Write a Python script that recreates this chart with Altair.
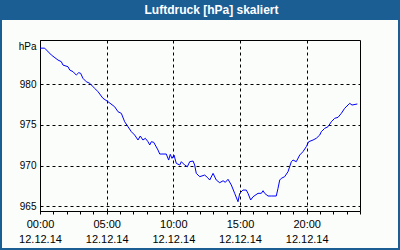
import altair as alt
import pandas as pd

title_text = "Luftdruck [hPa] skaliert"
unit_label = "hPa"
date_label = "12.12.14"
hour_ticks = [0, 5, 10, 15, 20]
time_labels = ["00:00", "05:00", "10:00", "15:00", "20:00"]
minor_ticks = list(range(0, 25))
y_ticks = [965, 970, 975, 980]

hours = [0.0, 0.35, 0.85, 1.35, 1.6, 1.72, 2.1, 2.23, 2.48, 2.72, 2.9, 3.05, 3.22, 3.47,
         3.73, 4.1, 4.35, 4.72, 5.1, 5.6, 5.85, 6.1, 6.35, 6.6, 6.85, 7.1, 7.35, 7.52,
         7.72, 7.9, 8.1, 8.23, 8.35, 8.53, 8.85, 8.98, 9.47, 9.65, 9.77, 9.9, 10.05,
         10.22, 10.48, 10.6, 10.85, 11.05, 11.23, 11.48, 11.6, 11.72, 11.98, 12.35,
         12.55, 12.73, 12.98, 13.22, 13.48, 13.73, 13.9, 14.1, 14.35, 14.6, 14.85,
         14.98, 15.22, 15.47, 15.6, 15.8, 15.98, 16.35, 16.6, 16.73, 16.85, 17.1,
         17.35, 17.72, 17.85, 17.98, 18.1, 18.35, 18.6, 18.85, 18.98, 19.22, 19.48,
         19.72, 19.97, 20.15, 20.48, 20.72, 20.98, 21.1, 21.35, 21.6, 21.85, 22.1,
         22.35, 22.6, 22.85, 23.23, 23.4, 23.8]
pressure = [984.4, 984.4, 983.56, 982.94, 982.74, 982.33, 982.12, 981.72, 981.51, 981.10,
            981.39, 981.31, 980.70, 980.28, 980.09, 979.47, 979.06, 978.25, 977.83,
            977.21, 976.60, 976.40, 975.37, 974.76, 974.15, 973.74, 973.13, 973.62,
            973.13, 973.34, 972.92, 972.52, 972.92, 972.85, 971.90, 971.41, 971.41,
            970.67, 971.37, 970.88, 971.29, 970.27, 970.06, 970.47, 970.06, 969.85,
            970.47, 970.55, 970.06, 969.04, 968.63, 968.83, 968.55, 968.22, 969.04,
            968.22, 967.89, 968.13, 967.94, 968.31, 967.61, 966.59, 965.56, 966.59,
            966.99, 966.99, 966.59, 965.77, 966.17, 966.59, 966.59, 966.91, 966.59,
            966.26, 966.26, 966.26, 967.20, 968.22, 968.43, 968.63, 969.24, 970.47,
            970.67, 970.47, 971.29, 971.69, 972.31, 972.92, 973.13, 973.34, 973.74,
            974.15, 974.56, 974.76, 975.37, 975.79, 975.91, 976.40, 977.02, 977.63,
            977.42, 977.55]

df = pd.DataFrame({"h": hours, "p": pressure})
dummy = alt.Data(values=[{"k": 1}])

FRAME = "#1B5E94"
FONT = "Liberation Sans"

label_expr = "".join(
    f"datum.value == {h} ? ['{t}', '{date_label}'] : " for h, t in zip(hour_ticks, time_labels)
) + "''"
grid_test = " || ".join(f"datum.value == {h}" for h in hour_ticks)

x_axis = alt.Axis(
    values=minor_ticks, labelExpr=label_expr, labelFlush=False, labelOverlap=False,
    grid=True, gridColor="black", gridDash=[3, 3],
    gridOpacity={"condition": {"test": grid_test, "value": 1}, "value": 0},
    tickColor="black", tickSize=3, domainColor="black",
    labelFont=FONT, labelFontSize=11, labelColor="black", labelPadding=4,
    labelLineHeight=15,
)
y_axis = alt.Axis(
    values=y_ticks, grid=True, gridColor="black", gridDash=[3, 3],
    ticks=False, tickSize=0, domainColor="black",
    labelFont=FONT, labelFontSize=10, labelColor="black", labelPadding=4,
    title=unit_label, titleAngle=0, titleAlign="right", titleBaseline="middle",
    titleX=-4, titleY=6, titleFont=FONT, titleFontSize=10,
    titleFontWeight="normal", titleColor="black",
)

line = alt.Chart(df).mark_line(color="#0000FF", strokeWidth=1).encode(
    x=alt.X("h:Q", scale=alt.Scale(domain=[0, 24], nice=False), axis=x_axis, title=None),
    y=alt.Y("p:Q", scale=alt.Scale(domain=[964.42, 985.4], nice=False, zero=False), axis=y_axis),
)

def bar(x1, x2, y1, y2):
    return alt.Chart(dummy).mark_rect(color=FRAME).encode(
        x=alt.value(x1), x2=alt.value(x2), y=alt.value(y1), y2=alt.value(y2)
    )

title_bar = bar(-40, 360, -40, -20)
left_bar = bar(-40, -38, -40, 210)
right_bar = bar(358, 360, -40, 210)
bottom_bar = bar(-40, 360, 208, 210)

title = alt.Chart(dummy).mark_text(
    text=title_text, color="white", font=FONT, fontWeight="bold", fontSize=12,
    align="center", baseline="alphabetic",
).encode(x=alt.value(171.5), y=alt.value(-26))

chart = alt.layer(title_bar, left_bar, right_bar, bottom_bar, title, line).properties(
    width=320, height=171,
    autosize=alt.AutoSizeParams(type="none"),
    padding={"left": 40, "top": 40, "right": 40, "bottom": 39},
    background="#FAFDFA",
).configure_view(stroke="black", strokeWidth=1)

chart.save("out.html", embed_options={"renderer": "svg", "actions": False})
